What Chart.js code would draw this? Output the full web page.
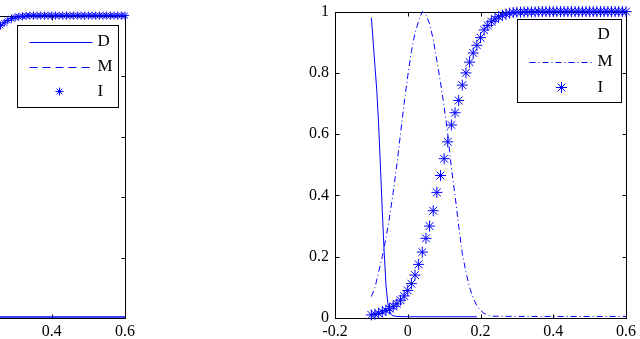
<!DOCTYPE html>
<html>
  <head>
    <script src="https://cdn.jsdelivr.net/npm/chart.js"></script>
    <style>
      html, body { margin: 0; padding: 0; background: #fff; overflow: hidden; }
      body { width: 640px; height: 339px; position: relative; }
      .panel { position: absolute; }
    </style>
  </head>
  <body>
    <div class="panel" style="left:-210px; top:0px;"><canvas id="leftChart" width="350" height="343"></canvas></div>
    <div class="panel" style="left:280px; top:-4px;"><canvas id="rightChart" width="360" height="347"></canvas></div>

    <script>
      // right panel: D (solid), M (dash-dot), I (stars)
      var xD = [-0.100, -0.095, -0.090, -0.085, -0.080, -0.075, -0.070, -0.065, -0.060, -0.055, -0.050, -0.045, -0.040, -0.030, 0.000, 0.100, 0.190];
      var yD = [0.98, 0.90, 0.82, 0.74, 0.63, 0.49, 0.35, 0.22, 0.11, 0.05, 0.022, 0.011, 0.007, 0.005, 0.004, 0.004, 0.004];

      var xM = [-0.10, -0.09, -0.08, -0.07, -0.06, -0.05, -0.04, -0.03, -0.02, -0.01,
                0.00, 0.01, 0.02, 0.03, 0.04, 0.05, 0.06, 0.07, 0.08, 0.09,
                0.10, 0.11, 0.12, 0.13, 0.14, 0.15, 0.16, 0.17, 0.18, 0.19,
                0.20, 0.21, 0.22, 0.23, 0.30, 0.40, 0.50, 0.60];
      var yM = [0.07, 0.10, 0.15, 0.20, 0.26, 0.33, 0.41, 0.50, 0.60, 0.70,
                0.79, 0.87, 0.93, 0.97, 1.00, 0.99, 0.96, 0.91, 0.84, 0.77,
                0.69, 0.60, 0.49, 0.40, 0.30, 0.21, 0.15, 0.10, 0.065, 0.04,
                0.025, 0.015, 0.009, 0.006, 0.005, 0.005, 0.005, 0.005];

      var xI = [-0.10, -0.09, -0.08, -0.07, -0.06, -0.05, -0.04, -0.03, -0.02, -0.01,
                0.00, 0.01, 0.02, 0.03, 0.04, 0.05, 0.06, 0.07, 0.08, 0.09,
                0.10, 0.11, 0.12, 0.13, 0.14, 0.15, 0.16, 0.17, 0.18, 0.19,
                0.20, 0.21, 0.22, 0.23, 0.24, 0.25, 0.26, 0.27, 0.28, 0.29,
                0.30, 0.31, 0.32, 0.33, 0.34, 0.35, 0.36, 0.37, 0.38, 0.39,
                0.40, 0.41, 0.42, 0.43, 0.44, 0.45, 0.46, 0.47, 0.48, 0.49,
                0.50, 0.51, 0.52, 0.53, 0.54, 0.55, 0.56, 0.57, 0.58, 0.59, 0.60];
      var yI = [0.010, 0.012, 0.015, 0.020, 0.025, 0.030, 0.038, 0.046, 0.058, 0.072,
                0.090, 0.112, 0.140, 0.175, 0.215, 0.260, 0.300, 0.350, 0.410, 0.465,
                0.520, 0.575, 0.630, 0.670, 0.710, 0.760, 0.800, 0.835, 0.865, 0.890,
                0.915, 0.940, 0.955, 0.967, 0.976, 0.983, 0.988, 0.992, 0.995, 0.997,
                0.998, 0.998, 0.999, 0.999, 0.999, 0.999, 1, 1, 1, 1,
                1, 1, 1, 1, 1, 1, 1, 1, 1, 1,
                1, 1, 1, 1, 1, 1, 1, 1, 1, 1, 1];

      // left panel (only its right part is visible)
      var xD2 = [0.25, 0.60];
      var yD2 = [0.003, 0.003];
      var xI2 = [0.26, 0.27, 0.28, 0.29, 0.30, 0.31, 0.32, 0.33, 0.34, 0.35,
                 0.36, 0.37, 0.38, 0.39, 0.40, 0.41, 0.42, 0.43, 0.44, 0.45,
                 0.46, 0.47, 0.48, 0.49, 0.50, 0.51, 0.52, 0.53, 0.54, 0.55,
                 0.56, 0.57, 0.58, 0.59, 0.60];
      var yI2 = [0.967, 0.976, 0.984, 0.990, 0.994, 0.996, 0.998, 0.999, 1, 1,
                 1, 1, 1, 1, 1, 1, 1, 1, 1, 1,
                 1, 1, 1, 1, 1, 1, 1, 1, 1, 1,
                 1, 1, 1, 1, 1];

      var xTicks = [-0.2, 0, 0.2, 0.4, 0.6];
      var yTicks = [0, 0.2, 0.4, 0.6, 0.8, 1];

      var SERIF = "'Liberation Serif', 'Times New Roman', serif";
      Chart.defaults.font.family = SERIF;
      Chart.defaults.color = '#000';

      function pts(xs, ys) {
        return xs.map(function(x, i) { return { x: x, y: ys[i] }; });
      }

      function label(v) {
        return String(Math.round(v * 10) / 10);
      }

      // box frame with inward ticks on all four sides
      var frameTicks = {
        id: 'frameTicks',
        beforeDatasetsDraw: function(chart) {
          var ctx = chart.ctx, a = chart.chartArea;
          var x = chart.scales.x, y = chart.scales.y;
          var L = Math.round(a.left) + 0.5, R = Math.round(a.right) + 0.5;
          var T = Math.round(a.top) + 0.5, B = Math.round(a.bottom) + 0.5;
          var t = 4;
          ctx.save();
          ctx.strokeStyle = '#000';
          ctx.lineWidth = 1;
          ctx.strokeRect(L, T, R - L, B - T);
          ctx.beginPath();
          x.ticks.forEach(function(tk) {
            var px = Math.round(x.getPixelForValue(tk.value)) + 0.5;
            ctx.moveTo(px, B); ctx.lineTo(px, B - t);
            ctx.moveTo(px, T); ctx.lineTo(px, T + t);
          });
          y.ticks.forEach(function(tk) {
            var py = Math.round(y.getPixelForValue(tk.value)) + 0.5;
            ctx.moveTo(L, py); ctx.lineTo(L + t, py);
            ctx.moveTo(R, py); ctx.lineTo(R - t, py);
          });
          ctx.stroke();
          ctx.restore();
        }
      };

      // framed legend drawn inside the plot, matlab style
      var boxLegend = {
        id: 'boxLegend',
        afterDraw: function(chart, args, opts) {
          var ctx = chart.ctx, a = chart.chartArea;
          var left = Math.round(a.right - opts.right - opts.w) + 0.5;
          var top = Math.round(a.top + opts.top) + 0.5;
          ctx.save();
          ctx.fillStyle = '#fff';
          ctx.fillRect(left, top, opts.w, opts.h);
          ctx.strokeStyle = '#000';
          ctx.lineWidth = 1;
          ctx.strokeRect(left, top, opts.w, opts.h);
          chart.data.datasets.forEach(function(ds, i) {
            var yy = top + opts.rows[i];
            ctx.fillStyle = '#000';
            ctx.font = '17px ' + SERIF;
            ctx.textBaseline = 'middle';
            ctx.textAlign = 'left';
            ctx.fillText(ds.label, left + opts.textX, yy);
            if (opts.noSample.indexOf(ds.label) >= 0) return;
            ctx.strokeStyle = ds.borderColor;
            ctx.fillStyle = ds.borderColor;
            if (ds.showLine !== false) {
              ctx.setLineDash(ds.borderDash || []);
              ctx.beginPath();
              ctx.moveTo(left + opts.lineX0, Math.round(yy) + 0.5);
              ctx.lineTo(left + opts.lineX1, Math.round(yy) + 0.5);
              ctx.stroke();
              ctx.setLineDash([]);
            }
            if (ds.pointRadius > 0) {
              Chart.helpers.drawPoint(ctx, { pointStyle: ds.pointStyle, radius: ds.pointRadius, borderWidth: 1, rotation: 0 },
                left + opts.markX, yy);
            }
          });
          ctx.restore();
        }
      };

      function makeChart(id, datasets, pad, yWidth, xHeight, legendOpts) {
        var ctx = document.getElementById(id).getContext('2d');
        return new Chart(ctx, {
          type: 'scatter',
          data: { datasets: datasets },
          options: {
            responsive: false,
            animation: false,
            devicePixelRatio: 1,
            layout: { padding: pad },
            plugins: {
              legend: { display: false },
              tooltip: { enabled: false },
              boxLegend: legendOpts
            },
            scales: {
              x: {
                type: 'linear',
                min: -0.2, max: 0.6,
                afterBuildTicks: function(s) { s.ticks = xTicks.map(function(v) { return { value: v }; }); },
                afterFit: function(s) { s.height = xHeight; },
                grid: { display: false, drawTicks: false },
                border: { display: false },
                ticks: { font: { size: 16, family: SERIF }, padding: 4, maxRotation: 0, autoSkip: false, callback: label }
              },
              y: {
                type: 'linear',
                min: 0, max: 1,
                afterBuildTicks: function(s) { s.ticks = yTicks.map(function(v) { return { value: v }; }); },
                afterFit: function(s) { s.width = yWidth; },
                grid: { display: false, drawTicks: false },
                border: { display: false },
                ticks: { font: { size: 16, family: SERIF }, padding: 6, autoSkip: false, callback: label }
              }
            }
          },
          plugins: [frameTicks, boxLegend]
        });
      }

      var blue = '#0000ff';

      makeChart('rightChart', [
        { label: 'D', data: pts(xD, yD), showLine: true, borderColor: blue, borderWidth: 1, pointRadius: 0, clip: false },
        { label: 'M', data: pts(xM, yM), showLine: true, borderColor: blue, borderWidth: 1, borderDash: [6, 3, 1, 3], pointRadius: 0, clip: false },
        { label: 'I', data: pts(xI, yI), showLine: false, borderColor: blue, backgroundColor: blue, pointStyle: 'star', pointRadius: 5.5, pointBorderWidth: 1, clip: false }
      ], { top: 12, right: 12, left: 0, bottom: 0 }, 55, 25,
      { right: 5, top: 7, w: 104, h: 83, rows: [15, 42, 68], textX: 80, lineX0: 12, lineX1: 76, markX: 44, noSample: ['D'] });

      makeChart('leftChart', [
        { label: 'D', data: pts(xD2, yD2), showLine: true, borderColor: blue, borderWidth: 1.5, pointRadius: 0, clip: false },
        { label: 'M', data: [], showLine: true, borderColor: blue, borderWidth: 1, borderDash: [8, 5], pointRadius: 0 },
        { label: 'I', data: pts(xI2, yI2), showLine: false, borderColor: blue, backgroundColor: blue, pointStyle: 'star', pointRadius: 4, pointBorderWidth: 1, clip: false }
      ], { top: 13, right: 15, left: 0, bottom: 0 }, 42, 25,
      { right: 7, top: 9, w: 101, h: 82, rows: [16, 41, 66], textX: 80, lineX0: 12, lineX1: 75, markX: 42, noSample: [] });
    </script>
  </body>
</html>
